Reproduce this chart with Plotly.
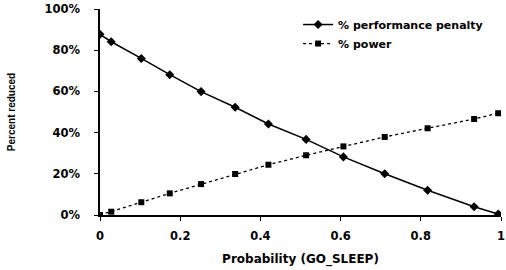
import plotly.graph_objects as go

prob = [0, 0.028, 0.103, 0.174, 0.252, 0.337, 0.42, 0.514, 0.607, 0.71, 0.817, 0.933, 0.993]
penalty = [87.7, 84.1, 76.0, 68.1, 59.9, 52.3, 44.2, 36.7, 28.2, 20.0, 12.0, 4.0, 0.5]
power = [0.0, 1.6, 6.2, 10.5, 15.0, 19.9, 24.4, 29.0, 33.3, 37.9, 42.1, 46.6, 49.4]

xticks = [0, 0.2, 0.4, 0.6, 0.8, 1]
xtick_labels = ["0", "0.2", "0.4", "0.6", "0.8", "1"]
yticks = [0, 20, 40, 60, 80, 100]
ytick_labels = ["0%", "20%", "40%", "60%", "80%", "100%"]

wide = "DejaVu Sans, Arial, sans-serif"
narrow = "Liberation Sans, Arial, sans-serif"
tick_font = dict(family=wide, size=11.5, color="black")
legend_font = dict(family=wide, size=11, color="black")
xtitle_font = dict(family=wide, size=12, color="black")
ytitle_font = dict(family=narrow, size=10, color="black")

fig = go.Figure()
fig.add_trace(go.Scatter(
    x=prob, y=penalty, mode="lines+markers", name="<b>% performance penalty</b>",
    line=dict(color="black", width=1.5),
    marker=dict(symbol="diamond", size=7, color="black"),
))
fig.add_trace(go.Scatter(
    x=prob, y=power, mode="lines+markers", name="<b>% power</b>",
    line=dict(color="black", width=1.3, dash="dot"),
    marker=dict(symbol="square", size=6, color="black"),
))

fig.update_layout(
    width=506, height=270,
    margin=dict(l=100, r=5, t=9, b=55, autoexpand=False),
    paper_bgcolor="white", plot_bgcolor="white",
    font=tick_font,
    showlegend=True,
    legend=dict(x=0.494, y=0.995, xanchor="left", yanchor="top",
                bgcolor="rgba(0,0,0,0)", font=legend_font,
                itemwidth=30, tracegroupgap=0),
    xaxis=dict(
        range=[0, 1], tickvals=xticks, ticktext=["<b>%s</b>" % t for t in xtick_labels],
        tickfont=tick_font, ticklabelstandoff=5,
        showline=True, linecolor="black", linewidth=1.5,
        ticks="outside", ticklen=4, tickcolor="black",
        showgrid=False, zeroline=False,
        title=dict(text="<b>Probability (GO_SLEEP)</b>", standoff=13, font=xtitle_font),
    ),
    yaxis=dict(
        range=[0, 100], tickvals=yticks, ticktext=["<b>%s</b>" % t for t in ytick_labels],
        tickfont=tick_font, ticklabelstandoff=12,
        showline=True, linecolor="black", linewidth=1.5,
        ticks="outside", ticklen=4, tickcolor="black",
        showgrid=False, zeroline=False,
        title=dict(text="<b>Percent reduced</b>", standoff=27, font=ytitle_font),
    ),
)

fig.write_html("out.html", config={"displayModeBar": False},
               post_script="document.body.style.margin='0';")
